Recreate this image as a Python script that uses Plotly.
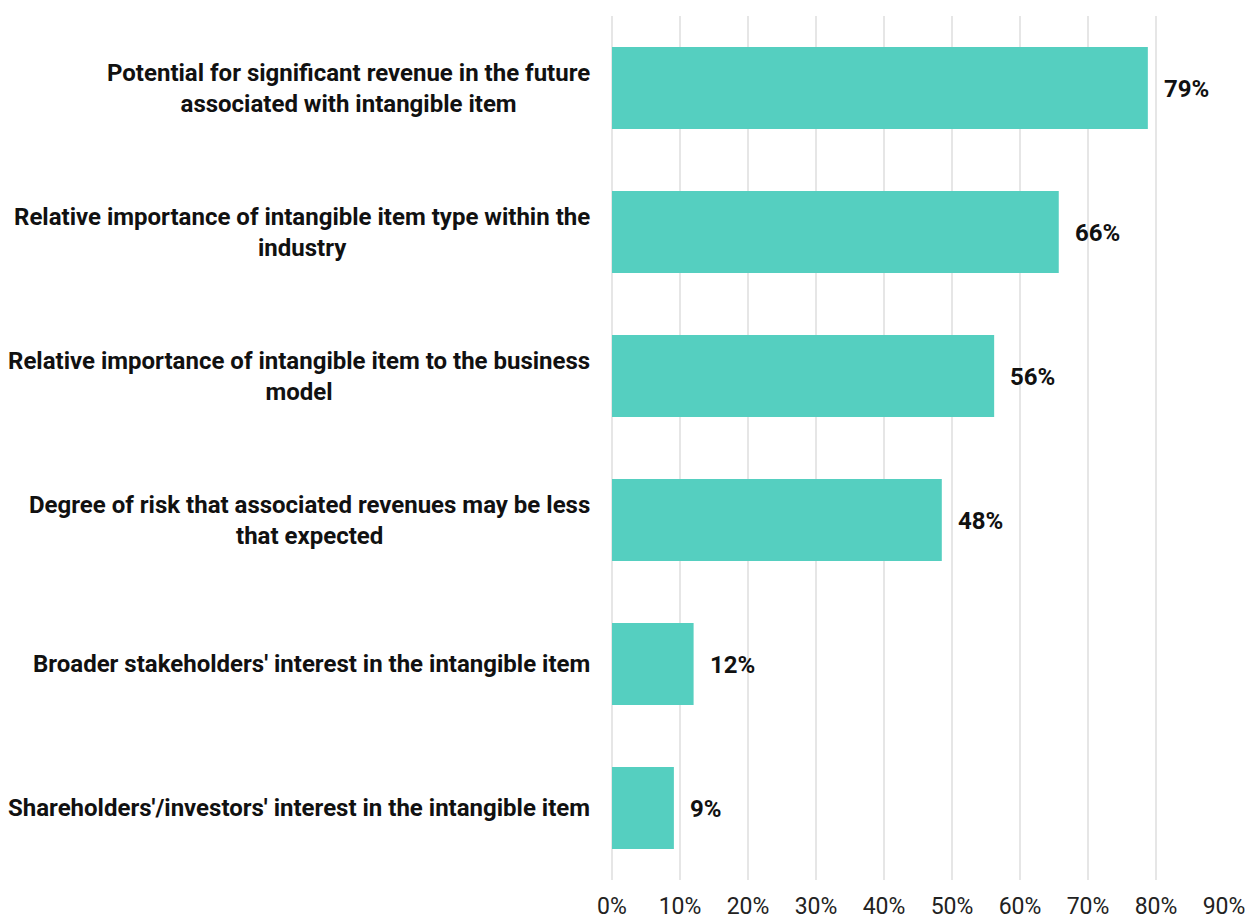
import plotly.graph_objects as go

categories = [
    "Potential for significant revenue in the future<br>associated with intangible item",
    "Relative importance of intangible item type within the<br>industry",
    "Relative importance of intangible item to the business<br>model",
    "Degree of risk that associated revenues may be less<br>that expected",
    "Broader stakeholders' interest in the intangible item",
    "Shareholders'/investors' interest in the intangible item",
]
values = [78.8, 65.7, 56.2, 48.5, 12.0, 9.1]
value_labels = ["79%", "66%", "56%", "48%", "12%", "9%"]
tick_vals = [0, 10, 20, 30, 40, 50, 60, 70, 80, 90]
tick_text = ["0%", "10%", "20%", "30%", "40%", "50%", "60%", "70%", "80%", "90%"]

fig = go.Figure()
fig.add_trace(go.Bar(
    x=values, y=categories, orientation="h",
    marker=dict(color="#55CFC0", line=dict(width=0)),
    hoverinfo="skip",
))

annotations = []
for c, v, t in zip(categories, values, value_labels):
    annotations.append(dict(
        x=v, y=c, xref="x", yref="y", text=t, showarrow=False,
        xanchor="left", xshift=14, yshift=-1,
        font=dict(family="Roboto", size=24, color="#111111", weight="bold"),
    ))
    annotations.append(dict(
        x=0, y=c, xref="paper", yref="y", text=c, showarrow=False,
        xanchor="right", align="center", xshift=-20,
        font=dict(family="Roboto", size=24, color="#111111", weight="bold"),
    ))

fig.update_layout(
    width=1256, height=921,
    margin=dict(l=612, r=32, t=16, b=41),
    plot_bgcolor="white", paper_bgcolor="white",
    bargap=0.43,
    showlegend=False,
    annotations=annotations,
    xaxis=dict(
        range=[0, 90], tickvals=tick_vals, ticktext=tick_text,
        showgrid=True, gridcolor="#e6e6e6", gridwidth=2,
        zeroline=True, zerolinecolor="#e6e6e6", zerolinewidth=2,
        showline=False, ticklabelstandoff=10, automargin=False,
        tickfont=dict(family="Roboto", size=23, color="#222222"),
        fixedrange=True,
    ),
    yaxis=dict(
        categoryorder="array", categoryarray=categories[::-1],
        showticklabels=False, showgrid=False, zeroline=False, showline=False,
        automargin=False, fixedrange=True,
    ),
)

fig.write_html("out.html")
